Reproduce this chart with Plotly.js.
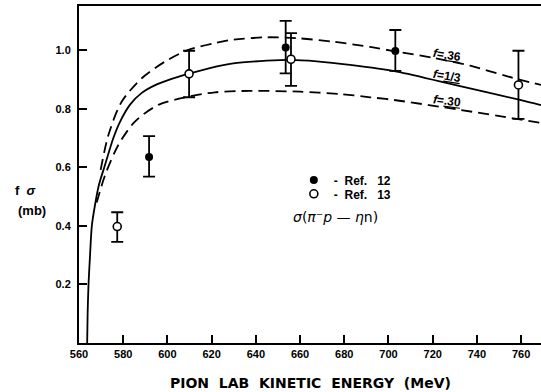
<!DOCTYPE html>
<html>
<head>
<meta charset="utf-8">
<script src="https://cdn.plot.ly/plotly-3.0.1.min.js"></script>
<style>html,body{margin:0;padding:0;background:#fff;}#chart{width:541px;height:392px;}</style>
</head>
<body>
<div id="chart"></div>
<script>
// Theory curves: f * sigma (mb) vs pion lab kinetic energy (MeV)
const energyThird = [563.7, 563.9, 564.3, 565.0, 565.8, 567.2, 569.0, 571.8, 575.5, 578.6, 583.1, 588.4, 595.2, 601.9, 609.8, 619.2, 629.8, 644.9, 655.5, 667.6, 682.6, 703.8, 732.4, 759.5, 769];
const sigmaThird  = [0, 0.1, 0.2, 0.3, 0.4, 0.47, 0.54, 0.609, 0.700, 0.757, 0.815, 0.855, 0.884, 0.903, 0.921, 0.940, 0.956, 0.965, 0.968, 0.963, 0.951, 0.928, 0.878, 0.831, 0.813];

const energy36 = [569.8, 573.3, 579.3, 588.4, 598.9, 609.5, 621.5, 629.8, 644.9, 658.5, 675.1, 691.7, 702.2, 720.0, 737.0, 753.5, 769];
const sigma36  = [0.592, 0.711, 0.825, 0.905, 0.962, 1.002, 1.025, 1.037, 1.045, 1.042, 1.030, 1.012, 0.998, 0.975, 0.948, 0.912, 0.882];

const energy30 = [568.0, 571.8, 577.8, 585.3, 595.9, 609.5, 621.5, 637.4, 660.0, 678.1, 691.7, 702.2, 732.4, 758.0, 769];
const sigma30  = [0.48, 0.574, 0.677, 0.757, 0.814, 0.842, 0.857, 0.862, 0.859, 0.851, 0.840, 0.831, 0.797, 0.766, 0.752];

// Data points
const ref12Energy = [591.7, 653.5, 703.1];
const ref12Sigma  = [0.636, 1.010, 0.998];
const ref12ErrUp  = [0.071, 0.091, 0.072];
const ref12ErrDn  = [0.067, 0.088, 0.068];

const ref13Energy = [577.3, 609.8, 655.9, 758.8];
const ref13Sigma  = [0.398, 0.920, 0.970, 0.882];
const ref13ErrUp  = [0.049, 0.079, 0.089, 0.117];
const ref13ErrDn  = [0.052, 0.080, 0.091, 0.116];

const seriesNames = ["-  Ref.   12", "-  Ref.   13"];

const xTickVals = [560, 580, 600, 620, 640, 660, 680, 700, 720, 740, 760];
const xTickText = ["560", "580", "600", "620", "640", "660", "680", "700", "720", "740", "760"];
const yTickVals = [0.2, 0.4, 0.6, 0.8, 1.0];
const yTickText = ["0.2", "0.4", "0.6", "0.8", "1.0"];

const tickFont = {family: "Liberation Sans, Arial, sans-serif", size: 11, color: "#000", weight: "bold"};
const legFont = {family: "Liberation Sans, Arial, sans-serif", size: 12, color: "#000", weight: "bold"};

const traces = [
  {x: energyThird, y: sigmaThird, mode: "lines", showlegend: false, line: {color: "#000", width: 1.8, shape: "spline", smoothing: 0.8}, hoverinfo: "skip"},
  {x: energy36, y: sigma36, mode: "lines", showlegend: false, line: {color: "#000", width: 1.8, shape: "spline", smoothing: 0.8, dash: "11px,6px"}, hoverinfo: "skip"},
  {x: energy30, y: sigma30, mode: "lines", showlegend: false, line: {color: "#000", width: 1.8, shape: "spline", smoothing: 0.8, dash: "11px,6px"}, hoverinfo: "skip"},
  {x: ref12Energy, y: ref12Sigma, mode: "markers", name: seriesNames[0], legend: "legend",
   marker: {symbol: "circle", size: 8, color: "#000"},
   error_y: {type: "data", symmetric: false, array: ref12ErrUp, arrayminus: ref12ErrDn, color: "#000", thickness: 1.8, width: 6}},
  {x: ref13Energy, y: ref13Sigma, mode: "markers", name: seriesNames[1], legend: "legend2",
   marker: {symbol: "circle", size: 8, color: "#fff", line: {color: "#000", width: 1.6}},
   error_y: {type: "data", symmetric: false, array: ref13ErrUp, arrayminus: ref13ErrDn, color: "#000", thickness: 1.8, width: 6}}
];

const annFont = {family: "Liberation Sans, Arial, sans-serif", size: 12, color: "#000", weight: "bold"};

const layout = {
  width: 541, height: 392,
  margin: {l: 79, r: 0, t: 6, b: 49},
  paper_bgcolor: "#fff", plot_bgcolor: "#fff",
  showlegend: true,
  legend: {x: 0.465, y: 0.527, xanchor: "left", yanchor: "top", bgcolor: "rgba(0,0,0,0)",
           itemwidth: 30, font: legFont},
  legend2: {x: 0.465, y: 0.4857, xanchor: "left", yanchor: "top", bgcolor: "rgba(0,0,0,0)",
           itemwidth: 30, font: legFont},
  xaxis: {
    range: [560, 769], tickvals: xTickVals, ticktext: xTickText,
    ticks: "inside", ticklen: 8, tickwidth: 2, tickcolor: "#000",
    showline: true, linewidth: 2, linecolor: "#000", mirror: true,
    showgrid: false, zeroline: false, tickfont: tickFont
  },
  yaxis: {
    range: [0, 1.152], tickvals: yTickVals, ticktext: yTickText,
    ticks: "inside", ticklen: 8, tickwidth: 2, tickcolor: "#000",
    showline: true, linewidth: 2, linecolor: "#000",
    showgrid: false, zeroline: false, tickfont: tickFont, ticklabelstandoff: 4
  },
  annotations: [
    {xref: "paper", yref: "paper", x: 0.5, y: -0.118, xanchor: "center", yanchor: "middle", showarrow: false,
     text: "PION  LAB  KINETIC  ENERGY  (MeV)", font: {family: "DejaVu Sans, sans-serif", size: 14, color: "#000", weight: "bold"}},
    {xref: "paper", yref: "paper", x: -0.115, y: 0.453, xanchor: "center", yanchor: "middle", showarrow: false,
     text: "f  <i>σ</i>", font: {family: "Liberation Sans, Arial, sans-serif", size: 13, color: "#000", weight: "bold"}},
    {xref: "paper", yref: "paper", x: -0.102, y: 0.392, xanchor: "center", yanchor: "middle", showarrow: false,
     text: "(mb)", font: {family: "Liberation Sans, Arial, sans-serif", size: 13, color: "#000", weight: "bold"}},
    {x: 726.5, y: 0.985, showarrow: false, textangle: 9, text: "<i>f</i>=<u>.36</u>", font: annFont},
    {x: 726.5, y: 0.913, showarrow: false, textangle: 9, text: "<i>f</i>=<u>1/3</u>", font: annFont},
    {x: 726.5, y: 0.827, showarrow: false, textangle: 7, text: "<i>f</i>=<u>.30</u>", font: annFont},
    {x: 676, y: 0.431, showarrow: false, text: "<i>σ</i>(<i>π</i>⁻<i>p</i> — <i>η</i>n)", font: {family: "DejaVu Sans", size: 14, color: "#000"}}
  ]
};

Plotly.newPlot("chart", traces, layout, {staticPlot: true, displayModeBar: false});
</script>
</body>
</html>
